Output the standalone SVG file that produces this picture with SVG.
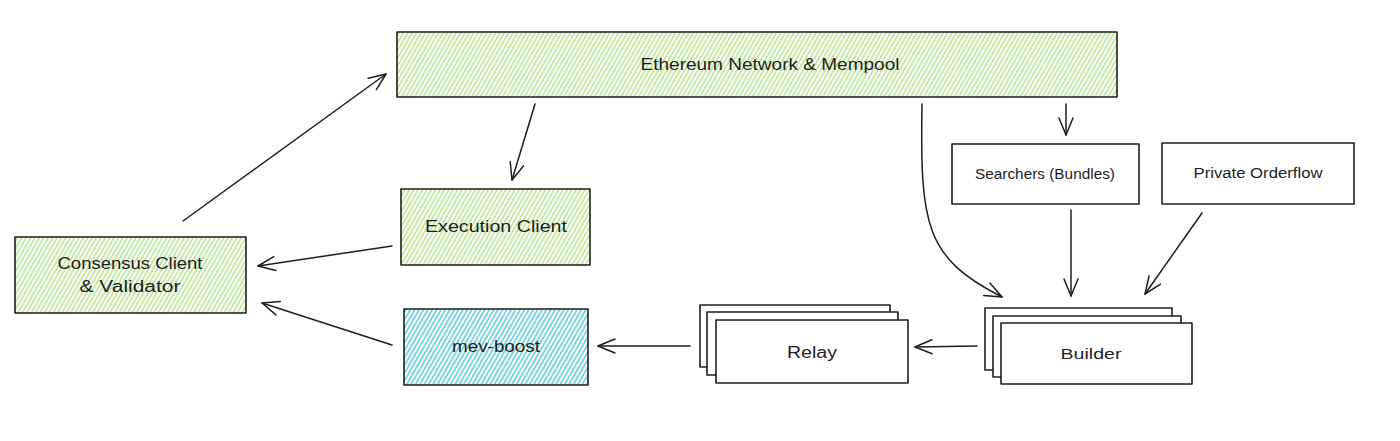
<svg xmlns="http://www.w3.org/2000/svg" width="1400" height="441" viewBox="0 0 1400 441">
<defs>
<style>
.box{stroke:#1e1e1e;stroke-width:1.6;stroke-linejoin:round}
.plain{fill:#ffffff}
.green{fill:url(#hGreen)}
.blue{fill:url(#hBlue)}
.lbl{font-family:"Liberation Sans",Arial,sans-serif;font-size:16px;fill:#1e1e1e;text-anchor:middle;dominant-baseline:central}
.sm{font-size:14px}
.conn path{fill:none;stroke:#1e1e1e;stroke-width:1.5;stroke-linecap:round;marker-end:url(#arr)}
</style>
<pattern id="hGreen" patternUnits="userSpaceOnUse" width="3.8" height="8" patternTransform="rotate(30)">
<rect width="3.8" height="8" fill="#ffffff"/>
<line x1="1" y1="0" x2="1" y2="8" stroke="#a6dd78" stroke-width="1.3"/>
</pattern>
<pattern id="hBlue" patternUnits="userSpaceOnUse" width="3.8" height="8" patternTransform="rotate(30)">
<rect width="3.8" height="8" fill="#ffffff"/>
<line x1="1" y1="0" x2="1" y2="8" stroke="#4cc4d6" stroke-width="1.4"/>
</pattern>
<marker id="arr" viewBox="-20 -10 22 20" refX="0" refY="0" markerWidth="22" markerHeight="20" markerUnits="userSpaceOnUse" orient="auto">
<path d="M-17,-7 L0,0 L-17,7" fill="none" stroke="#1e1e1e" stroke-width="1.5" stroke-linecap="round" stroke-linejoin="round"/>
</marker>
</defs>
<rect width="1400" height="441" fill="#ffffff"/>

<g id="ethereum">
<rect class="box green" x="397" y="32" width="720" height="65"/>
<text class="lbl" x="770" y="64" textLength="259" lengthAdjust="spacingAndGlyphs">Ethereum Network &amp; Mempool</text>
</g>

<g id="execution">
<rect class="box green" x="401" y="189" width="189" height="76"/>
<text class="lbl" x="496" y="226" textLength="142" lengthAdjust="spacingAndGlyphs">Execution Client</text>
</g>

<g id="consensus">
<rect class="box green" x="15" y="237" width="231" height="76"/>
<text class="lbl" x="130" y="263" textLength="145" lengthAdjust="spacingAndGlyphs">Consensus Client</text>
<text class="lbl" x="130" y="286" textLength="101" lengthAdjust="spacingAndGlyphs">&amp; Validator</text>
</g>

<g id="mevboost">
<rect class="box blue" x="404" y="309" width="184" height="76"/>
<text class="lbl" x="496" y="346" textLength="88" lengthAdjust="spacingAndGlyphs">mev-boost</text>
</g>

<g id="relay">
<rect class="box plain" x="700" y="305" width="190" height="62"/>
<rect class="box plain" x="707" y="312" width="191" height="63"/>
<rect class="box plain" x="716" y="320" width="192" height="63"/>
<text class="lbl" x="812" y="352" textLength="50" lengthAdjust="spacingAndGlyphs">Relay</text>
</g>

<g id="builder">
<rect class="box plain" x="985" y="308" width="187" height="62"/>
<rect class="box plain" x="993" y="316" width="188" height="61"/>
<rect class="box plain" x="1001" y="323" width="191" height="61"/>
<text class="lbl sm" x="1091" y="354" textLength="61" lengthAdjust="spacingAndGlyphs">Builder</text>
</g>

<g id="searchers">
<rect class="box plain" x="952" y="144" width="187" height="60"/>
<text class="lbl sm" x="1045" y="174" textLength="140" lengthAdjust="spacingAndGlyphs">Searchers (Bundles)</text>
</g>

<g id="private">
<rect class="box plain" x="1162" y="143" width="192" height="61"/>
<text class="lbl sm" x="1258" y="173" textLength="129" lengthAdjust="spacingAndGlyphs">Private Orderflow</text>
</g>

<g id="connectors" class="conn">
<path d="M183 221 L386 74"/>
<path d="M535 104 L512 180"/>
<path d="M392 246 L258 266"/>
<path d="M392 345 L262 303"/>
<path d="M690 346 L598 346"/>
<path d="M977 346 L915 347"/>
<path d="M922 104 C 920 225, 925 258, 1002 297"/>
<path d="M1066 104 L1066 135"/>
<path d="M1071 210 L1071 296"/>
<path d="M1202 213 L1145 294"/>
</g>
</svg>
